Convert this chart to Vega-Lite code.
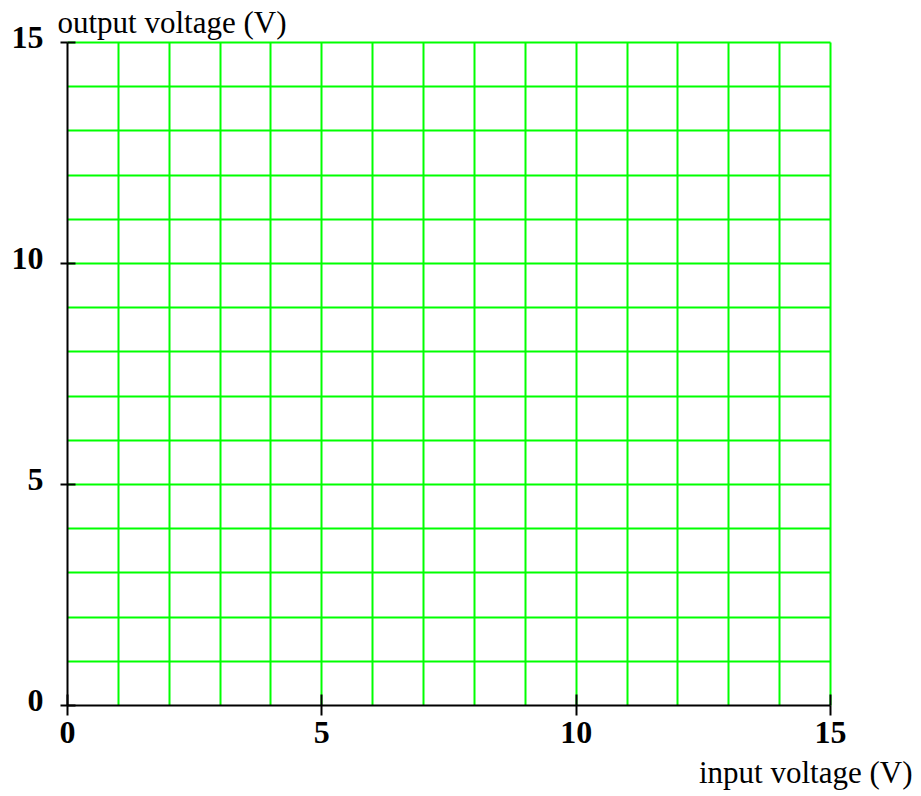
{
  "$schema": "https://vega.github.io/schema/vega-lite/v6.json",
  "width": 763,
  "height": 663,
  "autosize": {"type": "none"},
  "padding": {"left": 67, "top": 42, "right": 91, "bottom": 91},
  "background": "white",
  "view": {"stroke": null},
  "data": {"values": [{"input": 0, "output": 0}, {"input": 15, "output": 15}]},
  "config": {
    "axis": {
      "labelFont": "Liberation Serif",
      "labelFontWeight": "bold",
      "labelFontSize": 32,
      "labelColor": "black",
      "titleFont": "Liberation Serif",
      "titleFontWeight": "normal",
      "titleFontSize": 31,
      "titleColor": "black",
      "domainColor": "black",
      "domainWidth": 2,
      "tickWidth": 2,
      "gridWidth": 2
    }
  },
  "layer": [
    {
      "mark": {"type": "point", "opacity": 0},
      "encoding": {
        "x": {
          "field": "input", "type": "quantitative",
          "scale": {"domain": [0, 15], "nice": false, "zero": false},
          "axis": {
            "orient": "bottom",
            "values": [0,1,2,3,4,5,6,7,8,9,10,11,12,13,14,15],
            "labelExpr": "datum.value % 5 === 0 ? datum.label : ''",
            "tickColor": {"condition": {"test": "datum.value % 5 === 0", "value": "black"}, "value": "transparent"},
            "tickSize": 10,
            "labelPadding": 2,
            "labelFlush": false,
            "labelOverlap": false,
            "grid": true,
            "gridColor": {"condition": {"test": "datum.value === 0", "value": "transparent"}, "value": "#00ff00"},
            "title": "input voltage (V)",
            "titleAnchor": "start",
            "titleAlign": "right",
            "titleBaseline": "alphabetic",
            "titleX": 845,
            "titleY": 77
          }
        },
        "y": {
          "field": "output", "type": "quantitative",
          "scale": {"domain": [0, 15], "nice": false, "zero": false},
          "axis": {
            "orient": "left",
            "values": [0,1,2,3,4,5,6,7,8,9,10,11,12,13,14,15],
            "labelExpr": "datum.value % 5 === 0 ? datum.label : ''",
            "tickColor": {"condition": {"test": "datum.value % 5 === 0", "value": "black"}, "value": "transparent"},
            "tickSize": 7,
            "labelPadding": 17,
            "labelOffset": -5,
            "labelBaseline": "middle",
            "labelFlush": false,
            "labelOverlap": false,
            "grid": true,
            "gridColor": {"condition": {"test": "datum.value === 0", "value": "transparent"}, "value": "#00ff00"},
            "title": "output voltage (V)",
            "titleAngle": 0,
            "titleAnchor": "start",
            "titleAlign": "left",
            "titleBaseline": "alphabetic",
            "titleX": -10,
            "titleY": -10
          }
        }
      }
    },
    {
      "mark": {"type": "point", "opacity": 0},
      "encoding": {
        "x": {
          "field": "input", "type": "quantitative",
          "axis": {
            "orient": "bottom",
            "values": [0, 5, 10, 15],
            "tickSize": -11,
            "tickColor": "black",
            "labels": false,
            "domain": false,
            "grid": false,
            "title": null
          }
        },
        "y": {
          "field": "output", "type": "quantitative",
          "axis": {
            "orient": "left",
            "values": [0, 5, 10, 15],
            "tickSize": -8,
            "tickColor": "black",
            "labels": false,
            "domain": false,
            "grid": false,
            "title": null
          }
        }
      }
    }
  ],
  "resolve": {"axis": {"x": "independent", "y": "independent"}}
}
